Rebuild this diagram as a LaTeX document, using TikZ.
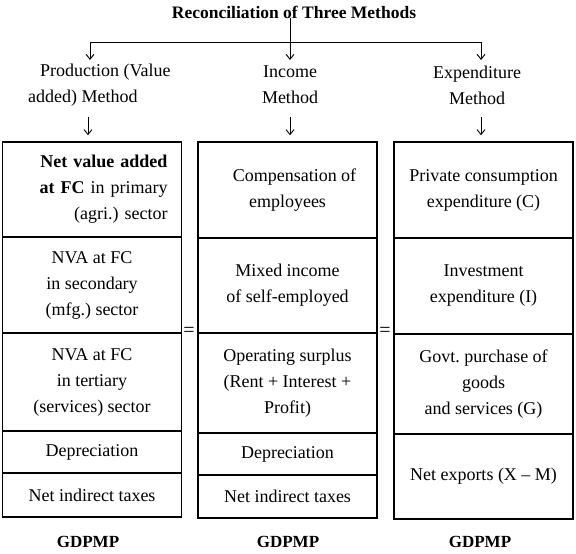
\documentclass[tikz,border=0pt]{standalone}
\usepackage{fontspec}
\setmainfont{Liberation Serif}
\usetikzlibrary{arrows.meta}
\newcommand\cellfont{\frenchspacing\fontsize{18}{26}\selectfont}

\begin{document}
\begin{tikzpicture}[x=1pt,y=-1pt,
    cell/.style={draw,line width=1.4pt,minimum width=179pt,inner sep=0pt,
      align=center,font=\cellfont},
    head/.style={inner sep=0pt,align=center,font=\cellfont},
    total/.style={inner sep=0pt,font=\fontsize{17}{20}\selectfont\bfseries},
    eq/.style={inner sep=0pt,font=\fontsize{20}{20}\selectfont},
    arr/.style={-{Straight Barb[length=5pt,width=8pt]},line width=0.9pt}
  ]
    \useasboundingbox (0,0) rectangle (576,554);
    \node[inner sep=0pt,font=\fontsize{17.5}{20}\selectfont\bfseries] (title) at (294,12)
      {Reconciliation of Three Methods};

    % branches
    \coordinate (bar) at (290,42);
    \coordinate (pA) at (90,60);
    \coordinate (iA) at (290,60);
    \coordinate (eA) at (481,60);
    \draw[line width=0.9pt] (pA |- bar) -- (eA |- bar);
    \draw[arr] (title.south -| iA) -- (iA);
    \draw[arr] (pA |- bar) -- (pA);
    \draw[arr] (eA |- bar) -- (eA);

    % headings
    \node[head,anchor=west,align=left] (phead) at (28,85)
      {\hspace*{12pt}Production (Value\\added) Method};
    \node[head] (ihead) at (290,85) {Income\\Method};
    \node[head] (ehead) at (477,85) {Expenditure\\Method};

    % production method
    \node[cell,minimum height=95pt,text width=151pt,align=right] (p1) at (92,189.5)
      {\textbf{Net value added}\\\textbf{at FC} in primary\\(agri.) sector};
    \node[cell,minimum height=96pt] (p2) at (92,285)
      {NVA at FC\\in secondary\\(mfg.) sector};
    \node[cell,minimum height=98pt] (p3) at (92,382)
      {NVA at FC\\in tertiary\\(services) sector};
    \node[cell,minimum height=42pt] (p4) at (92,452) {Depreciation};
    \node[cell,minimum height=44pt] (p5) at (92,495) {Net indirect taxes};

    % income method
    \node[cell,minimum height=96pt] (i1) at (287.5,190)
      {\hspace*{14pt}Compensation of\\employees};
    \node[cell,minimum height=95pt] (i2) at (287.5,285.5)
      {Mixed income\\of self-employed};
    \node[cell,minimum height=100pt] (i3) at (287.5,383)
      {Operating surplus\\(Rent + Interest +\\Profit)};
    \node[cell,minimum height=42pt] (i4) at (287.5,454) {Depreciation};
    \node[cell,minimum height=43pt] (i5) at (287.5,496.5) {Net indirect taxes};

    % expenditure method
    \node[cell,minimum height=96pt] (e1) at (483.5,190)
      {Private consumption\\expenditure (C)};
    \node[cell,minimum height=96pt] (e2) at (483.5,286)
      {Investment\\expenditure (I)};
    \node[cell,minimum height=100pt] (e3) at (483.5,384)
      {Govt. purchase of\\goods\\and services (G)};
    \node[cell,minimum height=85pt] (e4) at (483.5,476.5) {Net exports (X -- M)};

    % heading arrows
    \coordinate (pB) at (88,117);
    \coordinate (iB) at (290,117);
    \coordinate (eB) at (481,117);
    \draw[arr,shorten >=6pt] (pB) -- (pB |- p1.north);
    \draw[arr,shorten >=6pt] (iB) -- (iB |- i1.north);
    \draw[arr,shorten >=6pt] (eB) -- (eB |- e1.north);

    \node[eq] (eq1) at (189,332) {=};
    \node[eq] (eq2) at (385,332) {=};

    \node[total] (pt) at (88,542) {GDPMP};
    \node[total] (it) at (288,542) {GDPMP};
    \node[total] (et) at (480,542) {GDPMP};
  \end{tikzpicture}
\end{document}
